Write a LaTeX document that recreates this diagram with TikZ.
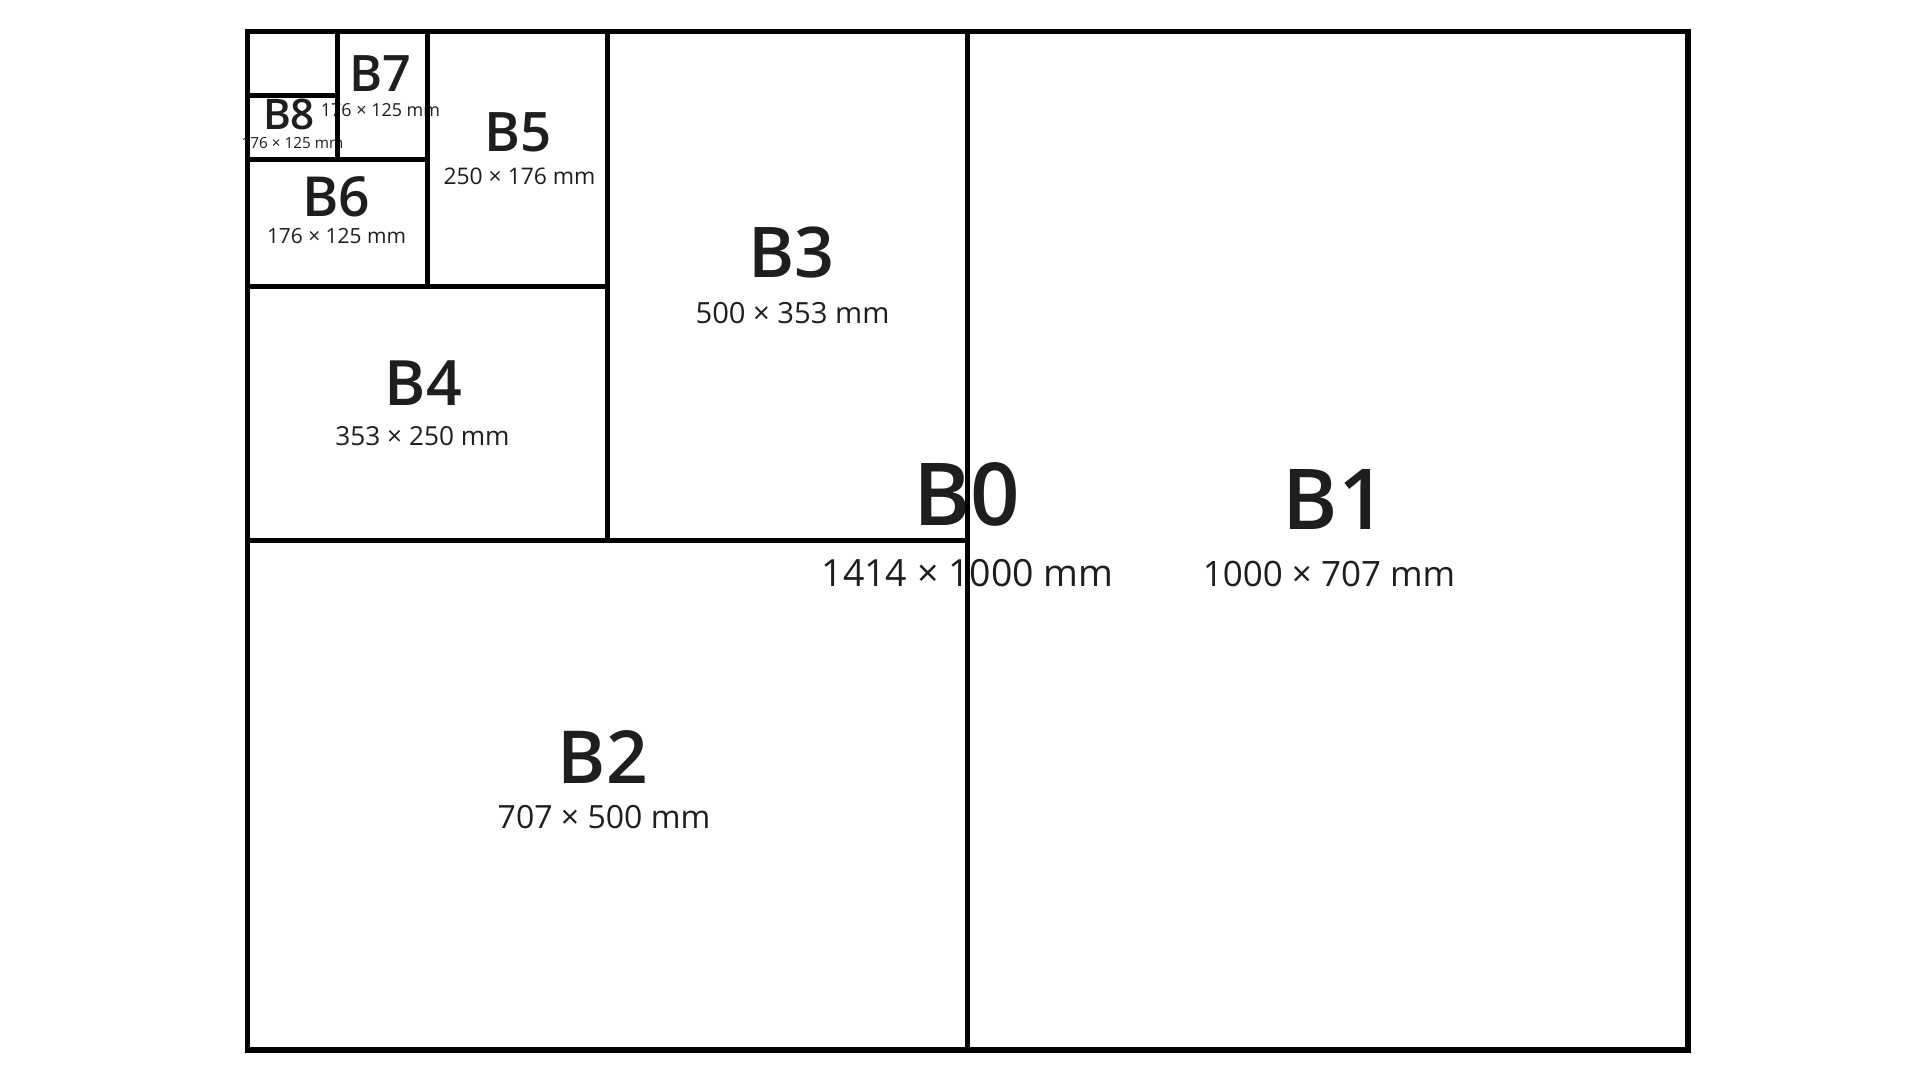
\documentclass[tikz,border=0pt]{standalone}
\usepackage{fontspec}
\setmainfont{Open Sans}
\IfFontExistsTF{Open Sans Semibold}{%
  \newfontfamily\labelfont{Open Sans Semibold}}{%
  \IfFontExistsTF{Open Sans SemiBold}{%
    \newfontfamily\labelfont{Open Sans SemiBold}}{%
    \newfontfamily\labelfont{Open Sans}[UprightFont=*Bold]}}
\usepackage{tikz}
\usetikzlibrary{positioning}
\usepackage{xcolor}
\definecolor{ink}{HTML}{1E1E1E}

\newcommand{\namefont}[1]{\labelfont\fontsize{#1}{#1}\selectfont}
\newcommand{\sizefont}[1]{\fontsize{#1}{#1}\selectfont}

\begin{document}
\begin{tikzpicture}[
    x=0.01cm, y=-0.01cm,
    sheet/.style={draw=black, line width=1.4pt},
    outer_sheet/.style={draw=black, line width=1.5pt},
    paper_name/.style={anchor=base, inner sep=0, text=ink},
    paper_size/.style={anchor=base, inner sep=0, text=ink}]

    \useasboundingbox (0,0) rectangle (1920,1080);

    % B0
    \node[paper_name, font=\namefont{24.7}] (b0_name) at (966.7,526) {B0};
    \node[paper_size, font=\sizefont{10.65}] (b0_size) at (967.5,586.7) {1414 × 1000 mm};
    % B1
    \node[paper_name, font=\namefont{23.9}] (b1_name) at (1334.5,529.4) {B1};
    \node[paper_size, font=\sizefont{9.95}] (b1_size) at (1329,586.8) {1000 × 707 mm};
    % B2
    \node[paper_name, font=\namefont{20.8}] (b2_name) at (603,784) {B2};
    \node[paper_size, font=\sizefont{9.1}] (b2_size) at (604,828.3) {707 × 500 mm};
    % B3
    \node[paper_name, font=\namefont{19.9}] (b3_name) at (791.5,277.3) {B3};
    \node[paper_size, font=\sizefont{8.3}] (b3_size) at (792.5,324) {500 × 353 mm};
    % B4
    \node[paper_name, font=\namefont{17.8}] (b4_name) at (423.5,405.3) {B4};
    \node[paper_size, font=\sizefont{7.45}] (b4_size) at (422.5,446) {353 × 250 mm};
    % B5
    \node[paper_name, font=\namefont{15.5}] (b5_name) at (518.3,151.7) {B5};
    \node[paper_size, font=\sizefont{6.5}] (b5_size) at (519.5,185) {250 × 176 mm};
    % B6
    \node[paper_name, font=\namefont{15.7}] (b6_name) at (336,216.7) {B6};
    \node[paper_size, font=\sizefont{5.95}] (b6_size) at (336.5,243.5) {176 × 125 mm};
    % B7
    \node[paper_name, font=\namefont{14.3}] (b7_name) at (380,91.7) {B7};
    \node[paper_size, font=\sizefont{5.1}] (b7_size) at (380.5,116.7) {176 × 125 mm};
    % B8
    \node[paper_name, font=\namefont{12}] (b8_name) at (289,130) {B8};
    \node[paper_size, font=\sizefont{4.35}] (b8_size) at (292.5,149) {176 × 125 mm};

    % Sheets, each one half of the one before
    \draw[sheet] (967.75,31.8) -- (967.75,1050);
    \draw[sheet] (247.5,540.9) -- (967.75,540.9);
    \draw[sheet] (607.6,31.8) -- (607.6,540.9);
    \draw[sheet] (247.5,286.35) -- (607.6,286.35);
    \draw[sheet] (427.6,31.8) -- (427.6,286.35);
    \draw[sheet] (247.5,159.1) -- (427.6,159.1);
    \draw[sheet] (337.5,31.8) -- (337.5,159.1);
    \draw[sheet] (247.5,95.4) -- (337.5,95.4);
    \draw[outer_sheet] (247.5,31.8) rectangle (1688,1050);

\end{tikzpicture}
\end{document}
